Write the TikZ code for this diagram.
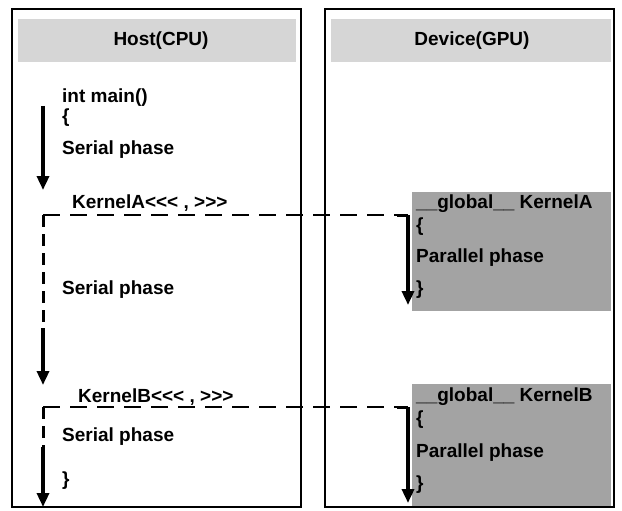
\documentclass[tikz,border=0pt]{standalone}
\usepackage{fontspec}
\setmainfont{Liberation Sans}
\usetikzlibrary{arrows.meta}
\newcommand\opentri{<\kern0pt<\kern0pt<}
\newcommand\closetri{>\kern0pt>\kern0pt>}
\begin{document}
\begin{tikzpicture}[x=1pt,y=-1pt,
  txt/.style={font=\fontsize{19}{21}\selectfont\bfseries, inner sep=0pt, anchor=west},
  head/.style={font=\fontsize{19}{21}\selectfont\bfseries, inner sep=0pt, anchor=center},
  panel/.style={draw=black, line width=2.4pt},
  flow/.style={line width=3.4pt, -{Triangle[length=14pt,width=12pt]}},
  corner/.style={line width=3pt},
  dashline/.style={line width=2.6pt, dash pattern=on 17pt off 10pt},
  vdashline/.style={line width=3pt, dash pattern=on 12pt off 7pt},
  band/.style={fill=black!16},
  kbox/.style={fill=black!36},
]
\useasboundingbox (0,0) rectangle (622,511);
\fill[white] (0,0) rectangle (622,511);
% header bands
\fill[band] (18,19) rectangle (296,62);
\fill[band] (331,19) rectangle (611,62);
% kernel boxes
\fill[kbox] (412,192) rectangle (611,311);
\fill[kbox] (412,384) rectangle (611,506);
% panels
\draw[panel] (12,9) rectangle (301,507);
\draw[panel] (325,9) rectangle (614,507);
% headers
\node[head] (host) at (161,41) {Host(CPU)};
\node[head] (dev) at (472,41) {Device(GPU)};
% host texts
\node[txt] (main) at (62,98) {int main()};
\node[txt] (ob) at (62,118) {\{};
\node[txt] (s1) at (62,150) {Serial phase};
\node[txt] (ka) at (72,203) {KernelA\opentri\ , \closetri};
\node[txt] (s2) at (62,290) {Serial phase};
\node[txt] (kb) at (78,397) {KernelB\opentri\ , \closetri};
\node[txt] (s3) at (62,437) {Serial phase};
\node[txt] (cb) at (62,481) {\}};
% device texts
\node[txt] (ga) at (416,204) {\_\_global\_\_ KernelA};
\node[txt] (oba) at (416,227) {\{};
\node[txt] (pa) at (416,258) {Parallel phase};
\node[txt] (cba) at (416,290) {\}};
\node[txt] (gb) at (416,397) {\_\_global\_\_ KernelB};
\node[txt] (obb) at (416,420) {\{};
\node[txt] (pb) at (416,453) {Parallel phase};
\node[txt] (cbb) at (416,485) {\}};
% coordinates
\coordinate (a1s) at (43,106);
\coordinate (a1e) at (43,190);
\coordinate (la) at (43,215);
\coordinate (ma) at (397,215);
\coordinate (ra) at (408,215);
\coordinate (ta) at (408,305);
\coordinate (da) at (43,328);
\coordinate (ea) at (43,385);
\coordinate (lb) at (43,407);
\coordinate (mb) at (397,407);
\coordinate (rb) at (408,407);
\coordinate (tb) at (408,503);
\coordinate (db) at (43,447);
\coordinate (eb) at (43,507);
% host flow
\draw[flow] (a1s) -- (a1e);
\draw[dashline] (la) -- (ma);
\draw[vdashline] (la) -- (da);
\draw[flow] (da) -- (ea);
\draw[dashline] (lb) -- (mb);
\draw[vdashline] (lb) -- (db);
\draw[flow] (db) -- (eb);
% device flow
\draw[corner] (ma) -- (ra);
\draw[flow] (ra) -- (ta);
\draw[corner] (mb) -- (rb);
\draw[flow] (rb) -- (tb);
\end{tikzpicture}
\end{document}
